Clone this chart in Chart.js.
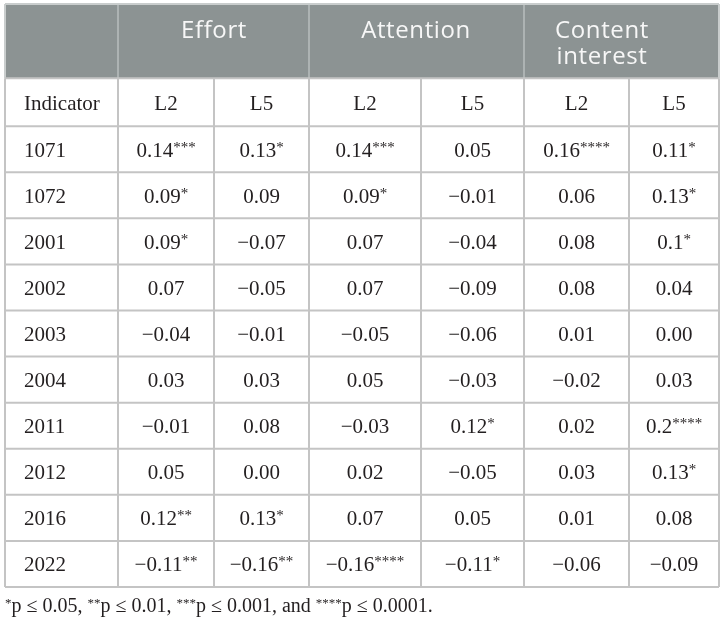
<!DOCTYPE html>
<html>
<head>
<meta charset="utf-8">
<script src="https://cdn.jsdelivr.net/npm/chart.js@4.4.1/dist/chart.umd.min.js"></script>
<style>
  html, body { margin: 0; padding: 0; background: #fff; }
  #wrap { width: 723px; height: 624px; }
</style>
</head>
<body>
<div id="wrap"><canvas id="table" width="723" height="624"></canvas></div>
<script>
// table content
const indicators = ['1071', '1072', '2001', '2002', '2003', '2004', '2011', '2012', '2016', '2022'];
const groups = ['Effort', 'Attention', 'Content\ninterest'];
const lags = ['L2', 'L5'];
const firstHeader = 'Indicator';

const effortL2 = ['0.14***', '0.09*', '0.09*', '0.07', '−0.04', '0.03', '−0.01', '0.05', '0.12**', '−0.11**'];
const effortL5 = ['0.13*', '0.09', '−0.07', '−0.05', '−0.01', '0.03', '0.08', '0.00', '0.13*', '−0.16**'];
const attentionL2 = ['0.14***', '0.09*', '0.07', '0.07', '−0.05', '0.05', '−0.03', '0.02', '0.07', '−0.16****'];
const attentionL5 = ['0.05', '−0.01', '−0.04', '−0.09', '−0.06', '−0.03', '0.12*', '−0.05', '0.05', '−0.11*'];
const contentL2 = ['0.16****', '0.06', '0.08', '0.08', '0.01', '−0.02', '0.02', '0.03', '0.01', '−0.06'];
const contentL5 = ['0.11*', '0.13*', '0.1*', '0.04', '0.00', '0.03', '0.2****', '0.13*', '0.08', '−0.09'];

const footnote = [['*', 'p ≤ 0.05, '], ['**', 'p ≤ 0.01, '], ['***', 'p ≤ 0.001, and '], ['****', 'p ≤ 0.0001.']];

// layout (x in table units, y in row units)
const colEdges = [0, 113, 209, 304, 416, 519, 624, 714];
const groupLabelX = [209, 411, 597];
const yTop = -2.65, subHeaderTop = -1.04;

const columns = [effortL2, effortL5, attentionL2, attentionL5, contentL2, contentL5];

const points = [];
indicators.forEach((ind, r) => {
  points.push({ x: colEdges[0], y: r + 0.5, text: ind, align: 'left' });
  columns.forEach((col, c) => {
    points.push({ x: (colEdges[c + 1] + colEdges[c + 2]) / 2, y: r + 0.5, text: col[r], align: 'center' });
  });
});
points.push({ x: colEdges[0], y: subHeaderTop / 2, text: firstHeader, align: 'left' });
groups.forEach((g, i) => {
  lags.forEach((lag, j) => {
    const c = 1 + i * 2 + j;
    points.push({ x: (colEdges[c] + colEdges[c + 1]) / 2, y: subHeaderTop / 2, text: lag, align: 'center' });
  });
});

const bodyFont = '21px "Liberation Serif", "Times New Roman", serif';
const supFont = '15px "Liberation Serif", "Times New Roman", serif';
const headFont = '24px "Open Sans", sans-serif';
const textColor = '#231f20';

function drawCell(ctx, text, x, y, align, font, sFont, raise) {
  const m = text.match(/^(.*?)(\*+)$/);
  const main = m ? m[1] : text;
  const stars = m ? m[2] : '';
  ctx.font = font;
  const w1 = ctx.measureText(main).width;
  ctx.font = sFont;
  const w2 = stars ? ctx.measureText(stars).width : 0;
  let sx = align === 'center' ? x - (w1 + w2) / 2 : x;
  ctx.font = font;
  ctx.fillText(main, sx, y);
  if (stars) {
    ctx.font = sFont;
    ctx.fillText(stars, sx + w1, y - raise);
  }
}

const tablePlugin = {
  id: 'tablePlugin',
  beforeDatasetsDraw(chart) {
    const { ctx, scales: { x, y } } = chart;
    const left = x.getPixelForValue(colEdges[0]);
    const right = x.getPixelForValue(colEdges[colEdges.length - 1]);
    const top = y.getPixelForValue(yTop);
    const subTop = y.getPixelForValue(subHeaderTop);
    const bottom = y.getPixelForValue(indicators.length);
    ctx.save();
    ctx.fillStyle = '#8c9393';
    ctx.fillRect(left, top, right - left, subTop - top);

    // header dividers
    ctx.strokeStyle = '#b9bebe';
    ctx.lineWidth = 1.5;
    [1, 3, 5].forEach(i => {
      const px = x.getPixelForValue(colEdges[i]);
      ctx.beginPath(); ctx.moveTo(px, top); ctx.lineTo(px, subTop); ctx.stroke();
    });
    ctx.strokeStyle = '#c9cdcd';
    ctx.lineWidth = 2;
    ctx.beginPath(); ctx.moveTo(left, top); ctx.lineTo(right, top); ctx.stroke();
    ctx.beginPath(); ctx.moveTo(left, top); ctx.lineTo(left, subTop); ctx.stroke();
    ctx.beginPath(); ctx.moveTo(right, top); ctx.lineTo(right, subTop); ctx.stroke();

    // body grid
    ctx.strokeStyle = '#c4c4c4';
    ctx.lineWidth = 2;
    for (let r = -1; r <= indicators.length; r++) {
      const py = r < 0 ? subTop : y.getPixelForValue(r);
      ctx.beginPath(); ctx.moveTo(left, py); ctx.lineTo(right, py); ctx.stroke();
    }
    colEdges.forEach(e => {
      const px = x.getPixelForValue(e);
      ctx.beginPath(); ctx.moveTo(px, subTop); ctx.lineTo(px, bottom); ctx.stroke();
    });
    ctx.restore();
  },
  afterDatasetsDraw(chart) {
    const { ctx, scales: { x, y } } = chart;
    const meta = chart.getDatasetMeta(0);
    ctx.save();
    ctx.fillStyle = textColor;
    ctx.textBaseline = 'alphabetic';
    ctx.textAlign = 'left';
    meta.data.forEach((pt, i) => {
      const d = points[i];
      const px = d.align === 'left' ? pt.x + 19 : pt.x;
      drawCell(ctx, d.text, px, pt.y + 7.5, d.align, bodyFont, supFont, 5);
    });

    // group headers
    const top = y.getPixelForValue(yTop);
    ctx.fillStyle = '#f7f7f7';
    ctx.font = headFont;
    ctx.letterSpacing = '0.6px';
    ctx.textAlign = 'center';
    groups.forEach((g, i) => {
      const px = x.getPixelForValue(groupLabelX[i]);
      g.split('\n').forEach((line, k) => {
        ctx.fillText(line, px, top + 34 + k * 26);
      });
    });
    ctx.letterSpacing = '0px';

    // footnote
    ctx.textAlign = 'left';
    ctx.fillStyle = textColor;
    let fx = x.getPixelForValue(colEdges[0]);
    const fy = y.getPixelForValue(indicators.length) + 25;
    footnote.forEach(([s, t]) => {
      ctx.font = '13px "Liberation Serif", serif';
      ctx.fillText(s, fx, fy - 5);
      fx += ctx.measureText(s).width;
      ctx.font = '20px "Liberation Serif", serif';
      ctx.fillText(t, fx, fy);
      fx += ctx.measureText(t).width;
    });
    ctx.restore();
  }
};

new Chart(document.getElementById('table'), {
  type: 'scatter',
  data: {
    datasets: [{
      data: points.map(p => ({ x: p.x, y: p.y })),
      pointRadius: 0,
      showLine: false
    }]
  },
  options: {
    responsive: false,
    animation: false,
    events: [],
    layout: { padding: { left: 5, top: 4, right: 4, bottom: 37 } },
    plugins: { legend: { display: false }, tooltip: { enabled: false } },
    scales: {
      x: { type: 'linear', min: colEdges[0], max: colEdges[colEdges.length - 1], display: false },
      y: { type: 'linear', min: yTop, max: indicators.length, reverse: true, display: false }
    }
  },
  plugins: [tablePlugin]
});
</script>
</body>
</html>
